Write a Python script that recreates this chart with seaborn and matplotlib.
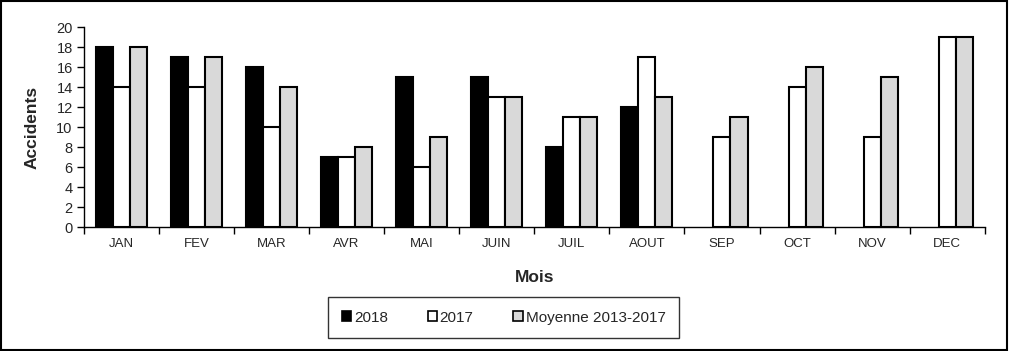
#!/usr/bin/env python3

import numpy as np
import pandas as pd
import seaborn as sns
import matplotlib as mpl
import matplotlib.pyplot as plt
from matplotlib.patches import Patch, Rectangle

sns.set_theme(style="white")
mpl.rcParams["font.family"] = ["Liberation Sans", "DejaVu Sans"]

mois = ["JAN", "FEV", "MAR", "AVR", "MAI", "JUIN", "JUIL", "AOUT", "SEP", "OCT", "NOV", "DEC"]
series = ["2018", "2017", "Moyenne 2013-2017"]
v2018 = [18, 17, 16, 7, 15, 15, 8, 12, np.nan, np.nan, np.nan, np.nan]
v2017 = [14, 14, 10, 7, 6, 13, 11, 17, 9, 14, 9, 19]
vmoy = [18, 17, 14, 8, 9, 13, 11, 13, 11, 16, 15, 19]
colors = ["black", "white", "#d9d9d9"]

rows = []
for s, vals in zip(series, [v2018, v2017, vmoy]):
    for m, v in zip(mois, vals):
        rows.append({"Mois": m, "serie": s, "Accidents": v})
df = pd.DataFrame(rows)

fig = plt.figure(figsize=(10.09, 3.51), dpi=100)
ax = fig.add_axes([0.083, 0.353, 0.893, 0.570])

sns.barplot(
    data=df, x="Mois", y="Accidents", hue="serie", order=mois, hue_order=series,
    palette=colors, saturation=1, width=0.68, gap=0, edgecolor="black",
    linewidth=1.5, ax=ax, legend=False,
)

ax.set_ylim(0, 20)
ax.set_xlim(-0.5, 11.5)
ax.set_yticks(range(0, 21, 2))
ax.tick_params(axis="y", left=True, length=5, width=1, color="black", labelsize=10.5, pad=3)
ax.tick_params(axis="x", which="major", length=0, labelsize=9.5, pad=8)
ax.set_xticks(np.arange(-0.5, 12, 1), minor=True)
ax.tick_params(axis="x", which="minor", bottom=True, length=5, width=1, color="black")
for s in ["top", "right"]:
    ax.spines[s].set_visible(False)
for s in ["left", "bottom"]:
    ax.spines[s].set_color("black")
    ax.spines[s].set_linewidth(1)

ax.set_xlabel("Mois", fontsize=12.5, fontweight="bold", labelpad=14)
ax.set_ylabel("Accidents", fontsize=12.5, fontweight="bold", labelpad=12)

handles = [Patch(facecolor=c, edgecolor="black", linewidth=1.2) for c in colors]
leg = fig.legend(
    handles, series, loc="center", bbox_to_anchor=(0.499, 0.095), ncol=3,
    fontsize=11, frameon=True, fancybox=False, edgecolor="black",
    handlelength=0.65, handleheight=0.65, handletextpad=0.15, columnspacing=2.6,
    borderpad=0.9, borderaxespad=0,
)
leg.get_frame().set_linewidth(1)

fig.patches.append(Rectangle((0.001, 0.002), 0.997, 0.995, transform=fig.transFigure,
                             fill=False, edgecolor="black", linewidth=1.5))

plt.savefig("out.png", dpi=100)
